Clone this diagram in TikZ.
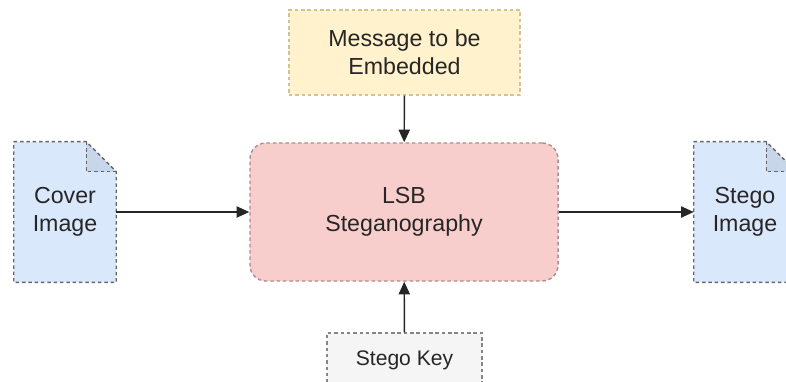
\documentclass[tikz,border=0pt]{standalone}
\usepackage{fontspec}
\setmainfont{Liberation Sans}
\usetikzlibrary{arrows.meta}

\definecolor{docfill}{HTML}{DAE8FC}
\definecolor{foldfill}{HTML}{C8D6EA}
\definecolor{lsbfill}{HTML}{F8CECC}
\definecolor{lsbline}{HTML}{B08C8C}
\definecolor{msgfill}{HTML}{FFF2CC}
\definecolor{msgline}{HTML}{D2C294}
\definecolor{keyfill}{HTML}{F5F5F5}
\definecolor{edge}{HTML}{666666}
\definecolor{ink}{HTML}{262626}

\tikzset{
  box/.style = {rectangle, draw, line width=1pt,
    dash pattern=on 2.5pt off 2pt, align=center, text=ink,
    font=\fontsize{16.5}{20}\selectfont},
  doc/.style = {rectangle, align=center, text=ink,
    minimum width=2.55cm, minimum height=3.5cm,
    font=\fontsize{16.5}{20}\selectfont},
  docline/.style = {draw=edge, line width=1pt,
    dash pattern=on 2.5pt off 2pt},
  link/.style = {-{Triangle[length=9pt,width=8pt]}, line width=1pt,
    draw=black!85}
}

\begin{document}
\begin{tikzpicture}[x=0.025cm, y=-0.025cm]
  \useasboundingbox (0,0) rectangle (786,381);
  \clip (0,0) rectangle (786,381);

  % main block
  \node[box, fill=lsbfill, draw=lsbline, rounded corners=0.4cm,
    minimum width=7.7cm, minimum height=3.45cm] (lsb) at (404,212)
    {LSB\\Steganography};
  \node[box, fill=msgfill, draw=msgline,
    minimum width=5.775cm, minimum height=2.125cm] (msg) at (404.5,52.5)
    {Message to be\\Embedded};
  \node[box, fill=keyfill, draw=edge!80,
    font=\fontsize{15}{18}\selectfont,
    minimum width=3.875cm, minimum height=1.375cm] (key) at (404.5,360.5)
    {Stego Key};

  % documents
  \fill[docfill] (14,142) -- (86,142) -- (116,172) -- (116,282)
    -- (14,282) -- cycle;
  \fill[docfill] (694,142) -- (766,142) -- (796,172) -- (796,282)
    -- (694,282) -- cycle;
  \node[doc] (cover) at (65,212) {Cover\\Image};
  \node[doc] (stego) at (745,212) {Stego\\Image};
  \fill[foldfill] ([xshift=-0.75cm]cover.north east)
    -- ([xshift=-0.75cm, yshift=-0.75cm]cover.north east)
    -- ([yshift=-0.75cm]cover.north east) -- cycle;
  \fill[foldfill] ([xshift=-0.75cm]stego.north east)
    -- ([xshift=-0.75cm, yshift=-0.75cm]stego.north east)
    -- ([yshift=-0.75cm]stego.north east) -- cycle;
  \draw[docline] (cover.north west) -- ([xshift=-0.75cm]cover.north east)
    -- ([yshift=-0.75cm]cover.north east) -- (cover.south east)
    -- (cover.south west) -- cycle;
  \draw[docline] ([xshift=-0.75cm]cover.north east)
    -- ([xshift=-0.75cm, yshift=-0.75cm]cover.north east)
    -- ([yshift=-0.75cm]cover.north east);
  \draw[docline] (stego.north west) -- ([xshift=-0.75cm]stego.north east)
    -- ([yshift=-0.75cm]stego.north east) -- (stego.south east)
    -- (stego.south west) -- cycle;
  \draw[docline] ([xshift=-0.75cm]stego.north east)
    -- ([xshift=-0.75cm, yshift=-0.75cm]stego.north east)
    -- ([yshift=-0.75cm]stego.north east);

  % connectors
  \draw[link] (cover) -- (lsb);
  \draw[link] (lsb) -- (stego);
  \draw[link] (msg) -- (lsb);
  \draw[link] (key) -- (lsb);
\end{tikzpicture}
\end{document}
